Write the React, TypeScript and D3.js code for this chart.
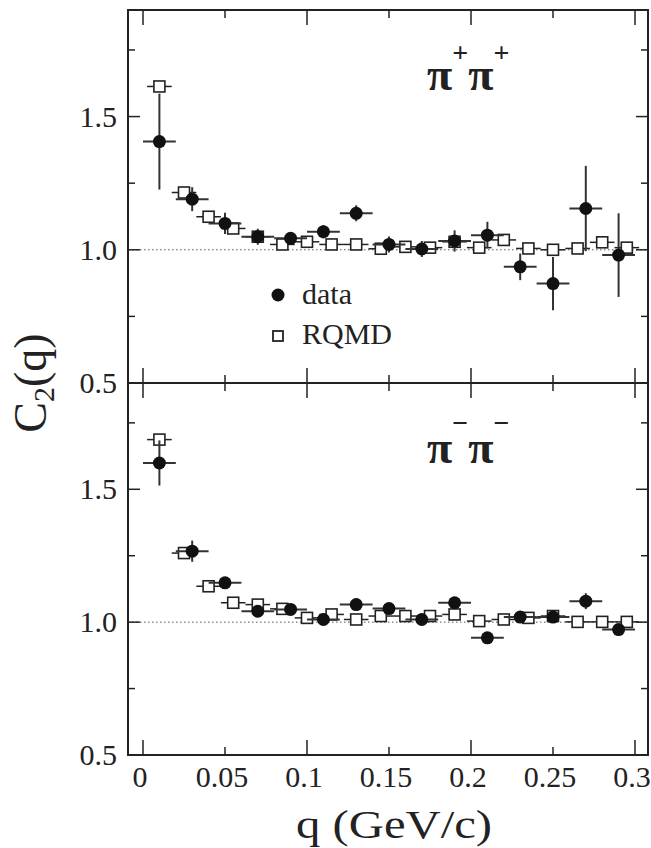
import React from "react";
import * as d3 from "d3";

const qData = [0.01, 0.03, 0.05, 0.07, 0.09, 0.11, 0.13, 0.15, 0.17, 0.19, 0.21, 0.23, 0.25, 0.27, 0.29];
const qRqmd = [0.01, 0.025, 0.04, 0.055, 0.07, 0.085, 0.1, 0.115, 0.13, 0.145, 0.16, 0.175, 0.19, 0.205, 0.22, 0.235, 0.25, 0.265, 0.28, 0.295];

const ppData = [1.406, 1.19, 1.099, 1.049, 1.043, 1.068, 1.137, 1.02, 1.003, 1.033, 1.055, 0.936, 0.873, 1.155, 0.98];
const ppErr = [0.18, 0.045, 0.04, 0.03, 0.02, 0.025, 0.03, 0.03, 0.03, 0.04, 0.05, 0.05, 0.1, 0.16, 0.157];
const ppRqmd = [1.613, 1.215, 1.124, 1.08, 1.049, 1.02, 1.03, 1.02, 1.02, 1.004, 1.011, 1.008, 1.03, 1.008, 1.037, 1.005, 1.0, 1.005, 1.028, 1.008];

const mmData = [1.599, 1.267, 1.148, 1.041, 1.048, 1.01, 1.066, 1.051, 1.01, 1.073, 0.941, 1.019, 1.019, 1.079, 0.972];
const mmErr = [0.085, 0.04, 0.02, 0.02, 0.02, 0.015, 0.015, 0.015, 0.015, 0.02, 0.02, 0.02, 0.02, 0.03, 0.02];
const mmRqmd = [1.687, 1.26, 1.135, 1.073, 1.066, 1.05, 1.016, 1.029, 1.01, 1.023, 1.023, 1.023, 1.029, 1.004, 1.01, 1.016, 1.023, 1.001, 1.001, 1.001];

const xTickValues = [0, 0.05, 0.1, 0.15, 0.2, 0.25, 0.3];
const xTickLabels = ["0", "0.05", "0.1", "0.15", "0.2", "0.25", "0.3"];
const xMajor = [0, 0.1, 0.2, 0.3];
const xMinor = [0.05, 0.15, 0.25];
const yMajor = [0.5, 1.0, 1.5];
const yMinor = [0.75, 1.25, 1.75];
const yLabels = ["0.5", "1.0", "1.5"];

const W = 651;
const H = 848;
const LEFT = 128;
const RIGHT = 648;
const TOP = 10;
const MID = 383;
const BOTTOM = 755;
const INK = "#222";
const FONT = "'Liberation Serif', 'Times New Roman', serif";

const x = d3.scaleLinear().domain([0, 0.3]).range([143, 635]);
const dataHalfWidth = 0.01;
const rqmdHalfWidth = 0.0075;

type PanelProps = {
  y: d3.ScaleLinear<number, number>;
  data: number[];
  err: number[];
  rqmd: number[];
  showBottomLabel: boolean;
};

function Panel({ y, data, err, rqmd, showBottomLabel }: PanelProps) {
  const [y0, y1] = y.range();
  const sq = 11;
  return (
    <g>
      {/* dotted reference line */}
      <line x1={LEFT} x2={RIGHT} y1={y(1)} y2={y(1)} stroke="#555" strokeWidth={1} strokeDasharray="1.5,2.5" />
      {/* y ticks left & right */}
      {yMajor.map((v) => (
        <g key={"M" + v}>
          <line x1={LEFT} x2={LEFT + 12} y1={y(v)} y2={y(v)} stroke={INK} strokeWidth={1.5} />
          <line x1={RIGHT} x2={RIGHT - 12} y1={y(v)} y2={y(v)} stroke={INK} strokeWidth={1.5} />
        </g>
      ))}
      {yMinor.map((v) => (
        <g key={"m" + v}>
          <line x1={LEFT} x2={LEFT + 7} y1={y(v)} y2={y(v)} stroke={INK} strokeWidth={1.5} />
          <line x1={RIGHT} x2={RIGHT - 7} y1={y(v)} y2={y(v)} stroke={INK} strokeWidth={1.5} />
        </g>
      ))}
      {/* x ticks top & bottom of panel */}
      {xMajor.map((v) => (
        <g key={"xM" + v}>
          <line x1={x(v)} x2={x(v)} y1={y0} y2={y0 - 15} stroke={INK} strokeWidth={1.5} />
          <line x1={x(v)} x2={x(v)} y1={y1} y2={y1 + 15} stroke={INK} strokeWidth={1.5} />
        </g>
      ))}
      {xMinor.map((v) => (
        <g key={"xm" + v}>
          <line x1={x(v)} x2={x(v)} y1={y0} y2={y0 - 8} stroke={INK} strokeWidth={1.5} />
          <line x1={x(v)} x2={x(v)} y1={y1} y2={y1 + 8} stroke={INK} strokeWidth={1.5} />
        </g>
      ))}
      {/* y tick labels */}
      {yMajor.map((v, i) =>
        v === 0.5 && !showBottomLabel ? null : (
          <text key={"yl" + v} x={117} y={y(v) + 10} textAnchor="end" fontSize={30} fontFamily={FONT} fill={INK}>
            {yLabels[i]}
          </text>
        )
      )}
      {/* RQMD */}
      {rqmd.map((v, i) => (
        <g key={"r" + i}>
          <line x1={x(qRqmd[i] - rqmdHalfWidth)} x2={x(qRqmd[i] + rqmdHalfWidth)} y1={y(v)} y2={y(v)} stroke={INK} strokeWidth={1.5} />
          <rect x={x(qRqmd[i]) - sq / 2} y={y(v) - sq / 2} width={sq} height={sq} fill="#fff" stroke={INK} strokeWidth={1.6} />
        </g>
      ))}
      {/* data */}
      {data.map((v, i) => (
        <g key={"d" + i}>
          <line x1={x(qData[i])} x2={x(qData[i])} y1={y(v - err[i])} y2={y(v + err[i])} stroke="#333" strokeWidth={2} />
          <line x1={x(qData[i] - dataHalfWidth)} x2={x(qData[i] + dataHalfWidth)} y1={y(v)} y2={y(v)} stroke="#333" strokeWidth={2} />
          <circle cx={x(qData[i])} cy={y(v)} r={6.5} fill="#111" />
        </g>
      ))}
    </g>
  );
}

export default function App() {
  const yTop = d3.scaleLinear().domain([0.5, 1.9]).range([MID, TOP]);
  const yBot = d3.scaleLinear().domain([0.5, 1.9]).range([BOTTOM, MID]);
  return (
    <svg width={W} height={H} style={{ position: "absolute", left: 0, top: 0, background: "#fff" }}>
      <rect x={0} y={0} width={W} height={H} fill="#fff" />
      <Panel y={yTop} data={ppData} err={ppErr} rqmd={ppRqmd} showBottomLabel={true} />
      <Panel y={yBot} data={mmData} err={mmErr} rqmd={mmRqmd} showBottomLabel={true} />
      {/* frame */}
      <rect x={LEFT} y={TOP} width={RIGHT - LEFT} height={BOTTOM - TOP} fill="none" stroke={INK} strokeWidth={2} />
      <line x1={LEFT} x2={RIGHT} y1={MID} y2={MID} stroke={INK} strokeWidth={2} />
      {/* x tick labels */}
      {xTickValues.map((v, i) => (
        <text key={"xl" + v} x={x(v) - 3} y={787} textAnchor="middle" fontSize={30} fontFamily={FONT} fill={INK}>
          {xTickLabels[i]}
        </text>
      ))}
      {/* axis titles */}
      <text x={394} y={838} textAnchor="middle" fontSize={40} fontFamily={FONT} fill={INK} textLength={196} lengthAdjust="spacingAndGlyphs">
        q (GeV/c)
      </text>
      <text transform="translate(46,383) rotate(-90)" textAnchor="middle" fontSize={46} fontFamily={FONT} fill={INK}>
        C<tspan fontSize={30} dy={8}>2</tspan><tspan dy={-8}>(q)</tspan>
      </text>
      {/* panel labels */}
      <text x={427} y={90} fontSize={46} fontWeight="bold" fontFamily={FONT} fill={INK}>
        π<tspan fontSize={28} dy={-28}>+</tspan><tspan dy={28}>π</tspan><tspan fontSize={28} dy={-28}>+</tspan>
      </text>
      <text x={427} y={463} fontSize={46} fontWeight="bold" fontFamily={FONT} fill={INK}>
        π<tspan fontSize={28} dy={-31}>−</tspan><tspan dy={31}>π</tspan><tspan fontSize={28} dy={-31}>−</tspan>
      </text>
      {/* legend */}
      <circle cx={278} cy={295} r={6.5} fill="#111" />
      <text x={302} y={304} fontSize={30} fontFamily={FONT} fill={INK}>data</text>
      <rect x={273} y={331} width={10} height={10} fill="#fff" stroke={INK} strokeWidth={1.8} />
      <text x={302} y={344} fontSize={30} fontFamily={FONT} fill={INK}>RQMD</text>
    </svg>
  );
}
